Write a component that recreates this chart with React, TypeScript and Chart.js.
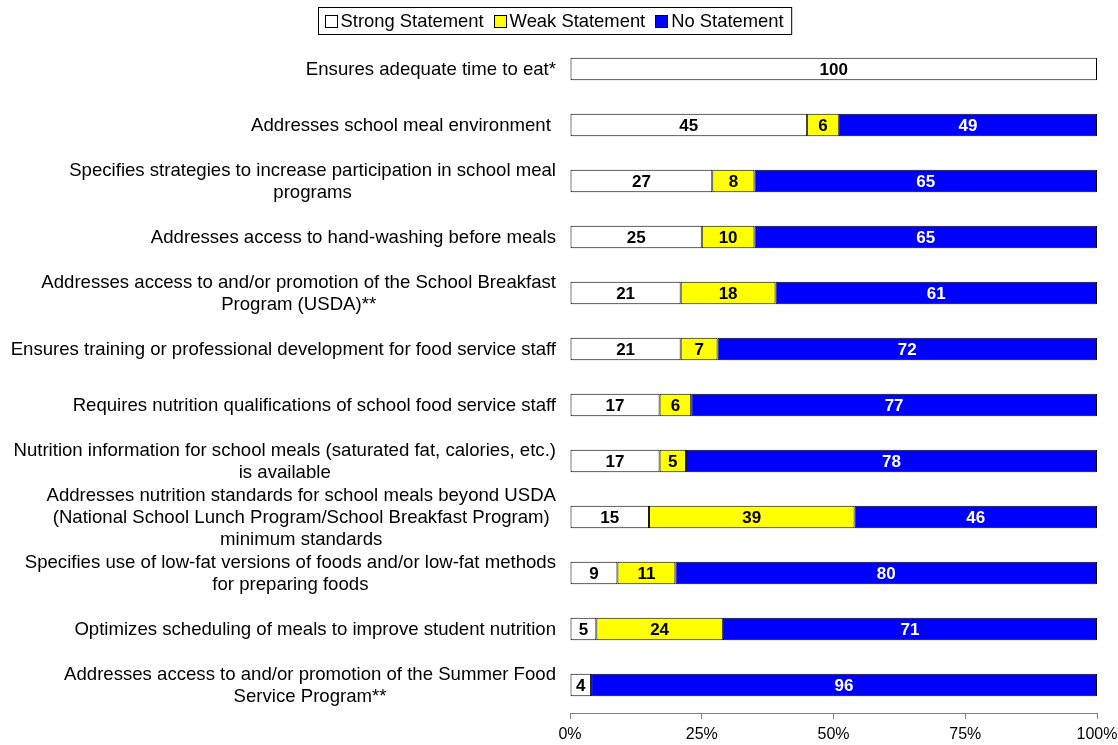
import React, { useEffect, useRef } from "react";
import { Chart, registerables } from "chart.js";

Chart.register(...registerables);

const categories: string[][] = [
  ["Ensures adequate time to eat*"],
  ["Addresses school meal environment "],
  ["Specifies strategies to increase participation in school meal", "programs"],
  ["Addresses access to hand-washing before meals"],
  ["Addresses access to and/or promotion of the School Breakfast", "Program (USDA)**"],
  ["Ensures training or professional development for food service staff"],
  ["Requires nutrition qualifications of school food service staff"],
  ["Nutrition information for school meals (saturated fat, calories, etc.)", "is available"],
  ["Addresses nutrition standards for school meals beyond USDA", "(National School Lunch Program/School Breakfast Program)", "minimum standards"],
  ["Specifies use of low-fat versions of foods and/or low-fat methods", "for preparing foods"],
  ["Optimizes scheduling of meals to improve student nutrition"],
  ["Addresses access to and/or promotion of the Summer Food", "Service Program**"],
];

const strongValues = [100, 45, 27, 25, 21, 21, 17, 17, 15, 9, 5, 4];
const weakValues = [0, 6, 8, 10, 18, 7, 6, 5, 39, 11, 24, 0];
const noValues = [0, 49, 65, 65, 61, 72, 77, 78, 46, 80, 71, 96];

const seriesNames = ["Strong Statement", "Weak Statement", "No Statement"];
const seriesColors = ["#FFFFFF", "#FFFF00", "#0000FF"];
const valueTextColors = ["#000000", "#000000", "#FFFFFF"];

const xTicks = [0, 25, 50, 75, 100];

const FONT = '"Liberation Sans", Arial, Helvetica, sans-serif';

const customPlugin = {
  id: "customDraw",
  afterDatasetsDraw(chart: any) {
    const ctx = chart.ctx;
    ctx.save();
    ctx.font = `bold 17px ${FONT}`;
    ctx.textAlign = "center";
    ctx.textBaseline = "middle";
    chart.data.datasets.forEach((ds: any, di: number) => {
      const meta = chart.getDatasetMeta(di);
      meta.data.forEach((bar: any, i: number) => {
        const v = ds.data[i];
        if (!v) return;
        const cx = (bar.x + bar.base) / 2;
        ctx.fillStyle = valueTextColors[di];
        ctx.fillText(String(v), cx, bar.y + 1);
      });
    });
    ctx.restore();
  },
  afterDraw(chart: any) {
    const ctx = chart.ctx;
    const yScale = chart.scales.y;
    const area = chart.chartArea;
    ctx.save();
    // category labels
    ctx.font = `18.6px ${FONT}`;
    ctx.fillStyle = "#000000";
    ctx.textAlign = "center";
    ctx.textBaseline = "middle";
    const lh = 22;
    categories.forEach((lines, i) => {
      const y = yScale.getPixelForValue(i);
      const widths = lines.map((l) => ctx.measureText(l).width);
      const maxW = Math.max(...widths);
      const right = area.left - 14;
      const cx = right - maxW / 2;
      const y0 = y - ((lines.length - 1) * lh) / 2;
      lines.forEach((l, k) => {
        ctx.fillText(l, cx, y0 + k * lh + 1);
      });
    });
    // legend
    ctx.font = `18.4px ${FONT}`;
    const box = 13;
    const gapBoxText = 3;
    const gapItems = 10;
    const padL = 6;
    const padR = 8;
    const textW = seriesNames.map((n) => ctx.measureText(n).width);
    let total = padL + padR;
    textW.forEach((w, i) => {
      total += box + gapBoxText + w + (i < textW.length - 1 ? gapItems : 0);
    });
    const centerX = 555;
    const top = 7.5;
    const height = 27;
    const left = Math.round(centerX - total / 2) + 0.5;
    ctx.strokeStyle = "#000000";
    ctx.lineWidth = 1;
    ctx.strokeRect(left, top, total, height);
    let x = left + padL;
    const cy = top + height / 2;
    ctx.textAlign = "left";
    seriesNames.forEach((n, i) => {
      ctx.fillStyle = seriesColors[i];
      ctx.fillRect(Math.round(x), Math.round(cy - box / 2), box, box);
      ctx.strokeStyle = "#000000";
      ctx.strokeRect(Math.round(x) + 0.5, Math.round(cy - box / 2) + 0.5, box - 1, box - 1);
      ctx.fillStyle = "#000000";
      ctx.fillText(n, x + box + gapBoxText, cy + 1);
      x += box + gapBoxText + textW[i] + gapItems;
    });
    ctx.restore();
  },
};

export default function App() {
  const canvasRef = useRef<HTMLCanvasElement | null>(null);

  useEffect(() => {
    document.body.style.margin = "0";
    const canvas = canvasRef.current;
    if (!canvas) return;
    const datasetValues = [strongValues, weakValues, noValues];
    const chart = new Chart(canvas, {
      type: "bar",
      data: {
        labels: categories.map((c) => c.join(" ")),
        datasets: seriesNames.map((name, i) => ({
          label: name,
          data: datasetValues[i],
          backgroundColor: seriesColors[i],
          borderColor: "#000000",
          borderWidth: 1,
          borderSkipped: false,
          barPercentage: 0.4,
          categoryPercentage: 1,
        })),
      },
      options: {
        indexAxis: "y",
        animation: false,
        responsive: true,
        maintainAspectRatio: false,
        layout: { padding: { top: 41, right: 0, bottom: 0, left: 0 } },
        plugins: {
          legend: { display: false },
          tooltip: { enabled: false },
        },
        scales: {
          x: {
            stacked: true,
            min: 0,
            max: 100,
            afterBuildTicks: (scale: any) => {
              scale.ticks = xTicks.map((v) => ({ value: v }));
            },
            afterFit: (scale: any) => {
              scale.paddingRight = 21;
              scale.paddingLeft = 0;
              scale.height = 32;
            },
            grid: {
              drawOnChartArea: false,
              drawTicks: true,
              tickLength: 6,
              color: "#808080",
            },
            border: { display: true, color: "#808080", width: 1 },
            ticks: {
              color: "#000000",
              font: { family: FONT, size: 16, lineHeight: 1 },
              padding: 8,
              maxRotation: 0,
              callback: (v: any) => `${v}%`,
            },
          },
          y: {
            stacked: true,
            grid: { display: false },
            border: { display: false },
            ticks: { display: false },
            afterFit: (scale: any) => {
              scale.width = 570;
            },
          },
        },
      },
      plugins: [customPlugin],
    });
    return () => chart.destroy();
  }, []);

  return (
    <div style={{ position: "relative", width: 1118, height: 745 }}>
      <canvas ref={canvasRef} />
    </div>
  );
}
